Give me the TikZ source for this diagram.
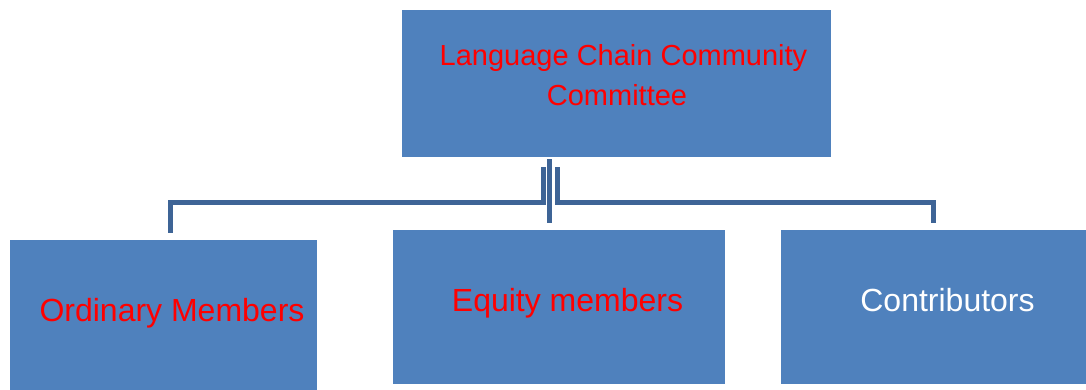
\documentclass[tikz,border=0pt]{standalone}
\usepackage{fontspec}
\setmainfont{Liberation Sans}
\usetikzlibrary{positioning}
\definecolor{boxblue}{HTML}{4F81BD}
\definecolor{linkblue}{HTML}{3E6496}
\definecolor{txtred}{HTML}{FF0000}

\begin{document}
\begin{tikzpicture}[x=1pt,y=-1pt,
	panel/.style={fill=boxblue,draw=none,inner sep=0pt},
	link/.style={draw=linkblue,line width=5pt},
	lbl/.style={anchor=base,inner sep=0pt,font=\fontsize{32}{38}\selectfont}]
	\useasboundingbox (0,0) rectangle (1086,390);
	% boxes
	\node[panel,minimum width=429pt,minimum height=147pt] (comm) at (616.5,83.5) {};
	\node[panel,minimum width=307pt,minimum height=150pt] (ord) at (163.5,315) {};
	\node[panel,minimum width=332pt,minimum height=154pt] (eq) at (559,307) {};
	\node[panel,minimum width=305pt,minimum height=154pt] (con) at (933.5,307) {};
	% texts
	\node[lbl,text=txtred,font=\fontsize{29}{35}\selectfont] (t1) at (623.5,66) {Language Chain Community};
	\node[lbl,text=txtred,font=\fontsize{29}{35}\selectfont] (t2) at (617,106) {Committee};
	\node[lbl,text=txtred] (t3) at (172,321) {Ordinary Members};
	\node[lbl,text=txtred] (t4) at (567.5,311) {Equity members};
	\node[lbl,text=white] (t5) at (947.5,311) {Contributors};
	% connectors
	\coordinate (hubL) at ([xshift=-73.5pt,yshift=-10pt]comm.south);
	\coordinate (hubR) at ([xshift=-59.5pt,yshift=-10pt]comm.south);
	\coordinate (hubC) at ([xshift=-67.5pt,yshift=-2pt]comm.south);
	\draw[link] (hubC) -- ([yshift=7pt]hubC |- eq.north);
	\draw[link] (hubL) |- (170,202) -- ([xshift=6.5pt,yshift=7pt]ord.north);
	\draw[link] (hubR) |- (933,202) -- ([xshift=-0.5pt,yshift=7pt]con.north);
\end{tikzpicture}
\end{document}
